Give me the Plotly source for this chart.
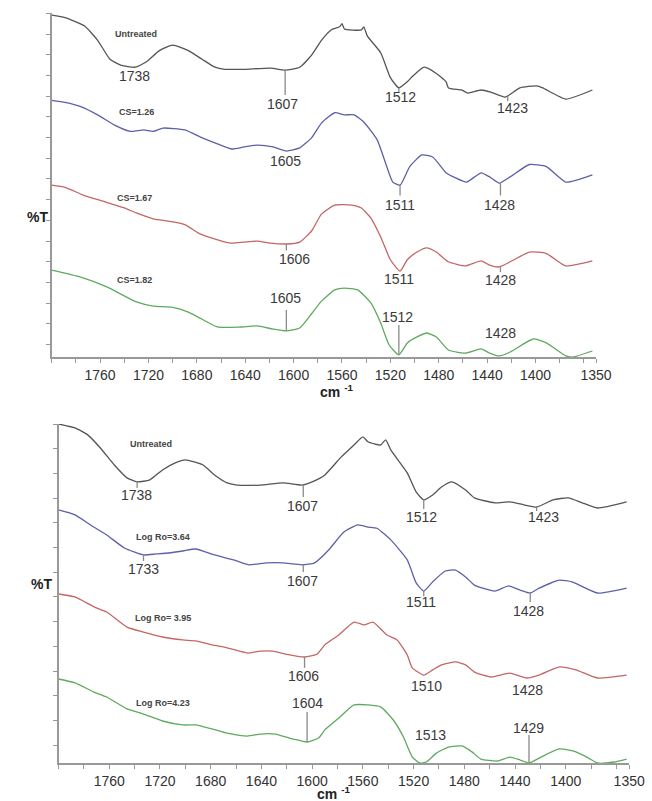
import numpy as np
import plotly.graph_objects as go

# ---------------- DATA ----------------
# Top panel (CS series), wavenumber (cm-1) vs offset %T (arbitrary units)
top_untreated_x = [1800,1789,1773,1762,1752,1743,1731,1722,1711,1700,1687,1676,1665,1657,1641,1619,1607,1595,1585,1577,1569,1562,1560,1558,1544,1542,1539,1528,1520,1513,1506,1501,1492,1482,1474,1472,1461,1456,1445,1437,1425,1413,1399,1394,1375,1353]
top_untreated_y = [16.52,16.4,16.0,15.3,14.4,14.1,14.0,14.25,14.8,15.07,14.8,14.4,14.0,13.9,13.9,13.96,13.86,14.0,14.6,15.3,15.8,15.95,16.1,15.85,15.8,15.95,15.5,14.7,13.5,13.0,13.3,13.6,14.0,13.7,13.3,13.0,12.9,12.75,12.9,12.8,12.56,13.0,13.1,13.0,12.46,12.9]

top_cs126_x = [1800,1789,1776,1762,1748,1735,1724,1716,1708,1690,1676,1663,1651,1641,1630,1617,1606,1595,1585,1577,1566,1558,1550,1542,1531,1523,1518,1512,1504,1494,1485,1474,1466,1457,1445,1438,1430,1421,1405,1391,1375,1353]
top_cs126_y = [12.4,12.3,12.1,11.7,11.2,10.9,10.97,10.9,11.06,10.97,10.6,10.3,10.05,10.15,10.24,10.15,9.95,10.1,10.6,11.3,11.8,11.7,11.7,11.35,10.5,9.2,8.45,8.3,9.2,9.76,9.66,8.9,8.65,8.45,8.9,8.7,8.4,8.7,9.3,9.2,8.45,8.8]

top_cs167_x = [1800,1789,1773,1756,1740,1730,1716,1708,1690,1679,1668,1652,1641,1630,1619,1606,1595,1585,1577,1566,1552,1544,1536,1528,1520,1512,1506,1498,1490,1482,1472,1458,1445,1438,1430,1421,1405,1391,1375,1353]
top_cs167_y = [8.3,8.2,7.8,7.5,7.2,6.96,6.67,6.6,6.4,6.0,5.75,5.5,5.55,5.6,5.5,5.46,5.55,6.1,6.9,7.34,7.34,7.2,6.7,5.8,4.7,4.15,4.7,5.07,5.27,5.07,4.6,4.4,4.64,4.44,4.35,4.6,5.07,5.0,4.4,4.64]

top_cs182_x = [1800,1776,1754,1730,1716,1700,1687,1679,1663,1644,1630,1617,1606,1595,1585,1577,1566,1558,1547,1536,1528,1521,1513,1506,1498,1490,1482,1472,1458,1445,1438,1430,1421,1402,1391,1375,1369,1353]
top_cs182_y = [4.2,3.86,3.38,2.66,2.46,2.4,2.17,1.93,1.45,1.45,1.5,1.35,1.26,1.4,2.1,2.7,3.24,3.33,3.24,2.6,1.64,0.58,0.1,0.68,0.97,1.16,0.97,0.34,0.19,0.39,0.19,0.05,0.24,0.87,0.68,0.05,0.0,0.29]

# Bottom panel (Log Ro series)
bot_untreated_x = [1800,1787,1777,1767,1756,1746,1738,1728,1718,1708,1700,1686,1677,1667,1659,1641,1623,1608,1600,1590,1577,1567,1560,1556,1546,1542,1538,1525,1518,1512,1505,1498,1490,1479,1472,1456,1444,1433,1423,1410,1398,1387,1375,1352]
bot_untreated_y = [13.72,13.56,13.28,12.75,12.06,11.54,11.38,11.46,11.86,12.15,12.27,12.06,11.66,11.34,11.25,11.25,11.34,11.25,11.38,11.66,12.39,12.87,13.2,13.0,12.87,13.08,12.67,11.74,10.97,10.65,10.85,11.17,11.38,11.05,10.73,10.53,10.57,10.45,10.36,10.65,10.73,10.53,10.32,10.57]

bot_ro364_x = [1800,1787,1775,1762,1748,1733,1723,1713,1702,1692,1677,1662,1650,1636,1623,1608,1598,1587,1575,1564,1556,1549,1538,1525,1518,1512,1505,1495,1487,1479,1472,1456,1445,1436,1428,1421,1405,1395,1375,1352]
bot_ro364_y = [10.24,10.04,9.64,9.23,8.7,8.42,8.46,8.5,8.58,8.66,8.42,8.22,8.02,8.1,8.1,8.02,8.1,8.62,9.35,9.64,9.55,9.5,9.03,8.22,7.29,6.96,7.33,7.77,7.81,7.53,7.2,6.96,7.17,7.0,6.88,7.08,7.4,7.33,6.88,7.08]

bot_ro395_x = [1800,1787,1772,1762,1746,1733,1718,1702,1692,1679,1667,1651,1641,1631,1621,1606,1596,1590,1579,1567,1559,1552,1541,1533,1525,1521,1512,1505,1498,1487,1479,1472,1459,1444,1431,1421,1405,1392,1375,1352]
bot_ro395_y = [6.84,6.72,6.32,6.11,5.5,5.3,5.1,4.98,4.94,4.78,4.66,4.45,4.53,4.53,4.41,4.29,4.41,4.78,5.18,5.7,5.59,5.7,5.18,4.98,4.37,3.85,3.56,3.77,3.97,4.09,3.97,3.68,3.48,3.64,3.44,3.56,3.89,3.77,3.44,3.56]

bot_ro423_x = [1800,1787,1772,1762,1746,1733,1718,1702,1692,1679,1667,1651,1641,1629,1615,1604,1595,1590,1579,1567,1556,1546,1536,1528,1521,1515,1510,1502,1492,1482,1474,1467,1454,1444,1436,1429,1421,1405,1392,1382,1375,1362,1352]
bot_ro423_y = [3.4,3.24,2.87,2.67,2.19,1.98,1.7,1.54,1.54,1.38,1.21,1.09,1.17,1.17,0.97,0.85,1.01,1.34,1.82,2.35,2.35,2.27,1.74,1.05,0.24,0.0,0.04,0.4,0.65,0.69,0.45,0.16,0.08,0.24,0.12,0.0,0.2,0.57,0.45,0.2,0.0,0.04,0.16]

series_names_top = ["Untreated", "CS=1.26", "CS=1.67", "CS=1.82"]
series_names_bot = ["Untreated", "Log Ro=3.64", "Log Ro= 3.95", "Log Ro=4.23"]
series_colors = ["#555555", "#5d60a8", "#c46666", "#5eaa5e"]

tick_labels = ["1760", "1720", "1680", "1640", "1600", "1560", "1520", "1480", "1440", "1400", "1350"]
tick_values = [1760, 1720, 1680, 1640, 1600, 1560, 1520, 1480, 1440, 1400, 1350]

# peak labels: (text, label x, label y, peak wavenumber for drop line or None, drop-line end y, series index)
top_peaks = [
    ("1738", 1731.5, 13.57, None, None, 0),
    ("1607", 1609, 12.22, 1607, 12.66, 0),
    ("1512", 1512, 12.56, 1513, 12.75, 0),
    ("1423", 1419, 12.03, 1423, 12.35, 0),
    ("1605", 1606.5, 9.47, None, None, 1),
    ("1511", 1512, 7.34, 1512, 7.8, 1),
    ("1428", 1430, 7.34, 1429, 7.8, 1),
    ("1606", 1599, 4.73, 1606, 5.15, 2),
    ("1511", 1513, 3.77, None, None, 2),
    ("1428", 1429, 3.72, 1429, 4.1, 2),
    ("1605", 1606.5, 2.85, 1606, 2.27, 3),
    ("1512", 1514.5, 1.93, 1513, 1.55, 3),
    ("1428", 1429, 1.16, None, None, 3),
]
bot_peaks = [
    ("1738", 1738.5, 10.85, 1738, 11.13, 0),
    ("1607", 1607.7, 10.4, 1607, 10.77, 0),
    ("1512", 1514, 9.96, 1512, 10.28, 0),
    ("1423", 1417.7, 9.96, 1423, 10.2, 0),
    ("1733", 1733, 7.85, 1733, 8.18, 1),
    ("1607", 1607.7, 7.37, 1607, 7.73, 1),
    ("1511", 1514, 6.52, 1512, 6.75, 1),
    ("1428", 1429, 6.15, 1428, 6.52, 1),
    ("1606", 1607, 3.52, 1606, 3.85, 2),
    ("1510", 1510, 3.12, None, None, 2),
    ("1428", 1430, 2.96, None, None, 2),
    ("1604", 1604, 2.43, 1604, 2.06, 3),
    ("1513", 1507, 1.13, None, None, 3),
    ("1429", 1429, 1.42, 1429, 1.13, 3),
]
# series label positions (x, y)
top_name_pos = [(1730, 15.6), (1730, 11.84), (1731.5, 7.68), (1731.5, 3.72)]
bot_name_pos = [(1727, 12.91), (1718, 9.15), (1718, 5.87), (1718, 2.43)]

# ---------------- FIGURE ----------------
W, H = 652, 801
fig = go.Figure()

top_series = [(top_untreated_x, top_untreated_y), (top_cs126_x, top_cs126_y),
              (top_cs167_x, top_cs167_y), (top_cs182_x, top_cs182_y)]
bot_series = [(bot_untreated_x, bot_untreated_y), (bot_ro364_x, bot_ro364_y),
              (bot_ro395_x, bot_ro395_y), (bot_ro423_x, bot_ro423_y)]

FONT = "Liberation Sans, Arial, sans-serif"
num_color = "#3a3a3a"

annotations = []
shapes = []

def add_panel(series, names, name_pos, peaks, xa, ya):
    for (xs, ys), nm, col in zip(series, names, series_colors):
        fig.add_trace(go.Scatter(x=xs, y=ys, mode="lines", name=nm,
                                 line=dict(color=col, width=1.3, shape="spline", smoothing=0.5),
                                 xaxis=xa, yaxis=ya, showlegend=False, hoverinfo="skip"))
    for nm, (px, py) in zip(names, name_pos):
        annotations.append(dict(x=px, y=py, xref=xa, yref=ya, text="<b>" + nm + "</b>",
                                showarrow=False, font=dict(family=FONT, size=9, color="#444444")))
    for (txt, lx, ly, pk, endy, si) in peaks:
        annotations.append(dict(x=lx, y=ly, xref=xa, yref=ya, text=txt, showarrow=False,
                                font=dict(family=FONT, size=14, color=num_color)))
        if pk is not None:
            xs, ys = series[si]
            cy = float(np.interp(pk, xs[::-1], ys[::-1]))
            shapes.append(dict(type="line", xref=xa, yref=ya, x0=pk, x1=pk, y0=cy, y1=endy,
                               line=dict(color="#8a8a8a", width=1.3)))

add_panel(top_series, series_names_top, top_name_pos, top_peaks, "x", "y")
add_panel(bot_series, series_names_bot, bot_name_pos, bot_peaks, "x2", "y2")

def xaxis_style(domain, anchor):
    return dict(domain=domain, anchor=anchor, range=[1800, 1350], showgrid=False, zeroline=False,
                showline=True, linecolor="#999999", linewidth=1.5,
                tickmode="array", tickvals=tick_values, ticktext=tick_labels,
                ticks="outside", ticklen=4, tickcolor="#999999", tickwidth=1.2,
                minor=dict(tick0=1800, dtick=20, ticks="outside", ticklen=4, tickcolor="#999999", tickwidth=1.2),
                tickfont=dict(family=FONT, size=14, color="#333333"))

def yaxis_style(domain, anchor, rng, tick0):
    return dict(domain=domain, anchor=anchor, range=rng, showgrid=False, zeroline=False,
                showline=True, linecolor="#999999", linewidth=1.5,
                tick0=tick0, dtick=1, ticks="outside", ticklen=4, tickcolor="#999999",
                tickwidth=1.2, showticklabels=False)

fig.update_layout(
    width=W, height=H, margin=dict(l=0, r=0, t=0, b=0),
    paper_bgcolor="white", plot_bgcolor="white",
    xaxis=xaxis_style([53 / W, 611 / W], "y"),
    yaxis=yaxis_style([1 - 357 / H, 1 - 13.4 / H], "x", [0, 16.6], 0.6),
    xaxis2=xaxis_style([60 / W, 645 / W], "y2"),
    yaxis2=yaxis_style([1 - 763 / H, 1 - 424 / H], "x2", [0, 13.72], 0.72),
    annotations=annotations, shapes=shapes,
)

# axis titles as paper annotations
for (tx, ty) in [(26, 207), (30, 594)]:
    fig.add_annotation(x=tx / W, y=1 - ty / H, xref="paper", yref="paper", text="<b>%T</b>",
                       showarrow=False, font=dict(family=FONT, size=14, color="#222222"))
fig.add_annotation(x=345 / W, y=1 - 391 / H, xref="paper", yref="paper",
                   text="<b>cm</b> <sup><b>-1</b></sup>",
                   showarrow=False, font=dict(family=FONT, size=14, color="#222222"))
fig.add_annotation(x=342 / W, y=0, xref="paper", yref="paper", yanchor="bottom",
                   borderpad=0, yshift=-2,
                   text="<b>cm</b> <sup><b>-1</b></sup>",
                   showarrow=False, font=dict(family=FONT, size=14, color="#222222"))

fig.write_html("out.html")
